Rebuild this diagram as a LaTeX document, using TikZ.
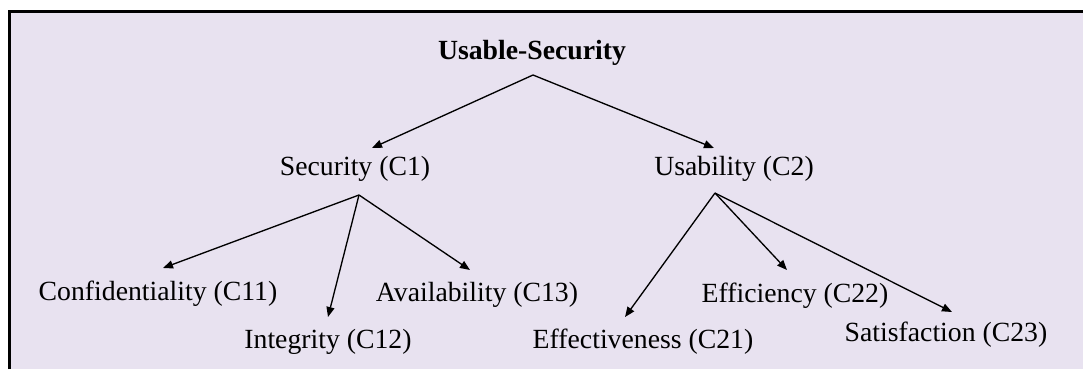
\documentclass[tikz,border=0pt]{standalone}
\usepackage{fontspec}
\setmainfont{Liberation Serif}
\usetikzlibrary{arrows.meta}
\definecolor{lavbg}{RGB}{232,226,240}
\tikzset{
  lbl/.style={inner sep=0pt, font=\fontsize{20.8}{25}\selectfont},
  rootlbl/.style={inner sep=0pt, font=\bfseries\fontsize{20.8}{25}\selectfont},
  link/.style={line width=1pt, -{Triangle[length=7.5pt,width=6pt]}}
}

\begin{document}
\begin{tikzpicture}[x=0.75pt,y=-0.75pt]
        \useasboundingbox (0,0) rectangle (1083,369);

        % frame
        \fill[lavbg] (9.5,11.5) rectangle (1083,369);
        \draw[line width=2.4pt] (9.5,369) -- (9.5,11.5) -- (1083,11.5);

        % root
        \node[rootlbl] (us) at (532,53) {Usable-Security};

        % criteria
        \node[lbl] (sec) at (355,169) {Security (C1)};
        \node[lbl] (usa) at (734,169) {Usability (C2)};

        % sub criteria
        \node[lbl] (conf) at (158,294) {Confidentiality (C11)};
        \node[lbl] (integ) at (328,342) {Integrity (C12)};
        \node[lbl] (avail) at (477,295) {Availability (C13)};

        \node[lbl] (effect) at (643,342) {Effectiveness (C21)};
        \node[lbl] (effic) at (795,296) {Efficiency (C22)};
        \node[lbl] (satis) at (946,335) {Satisfaction (C23)};

        % branch points
        \coordinate (usv) at (533,75);
        \coordinate (secv) at (359,195);
        \coordinate (usav) at (715,193);

        % arrow ends
        \coordinate (secT) at (372,148);
        \coordinate (usaT) at (714,148);
        \coordinate (confT) at (163,268);
        \coordinate (integT) at (328,317);
        \coordinate (availT) at (470,270);
        \coordinate (effectT) at (625,317);
        \coordinate (efficT) at (787,270);
        \coordinate (satisT) at (952,312);

        % level 1
        \draw[link] (usv) -- (secT);
        \draw[link] (usv) -- (usaT);

        % level 2
        \draw[link] (secv) -- (confT);
        \draw[link] (secv) -- (integT);
        \draw[link] (secv) -- (availT);

        \draw[link] (usav) -- (effectT);
        \draw[link] (usav) -- (efficT);
        \draw[link] (usav) -- (satisT);

\end{tikzpicture}
\end{document}
